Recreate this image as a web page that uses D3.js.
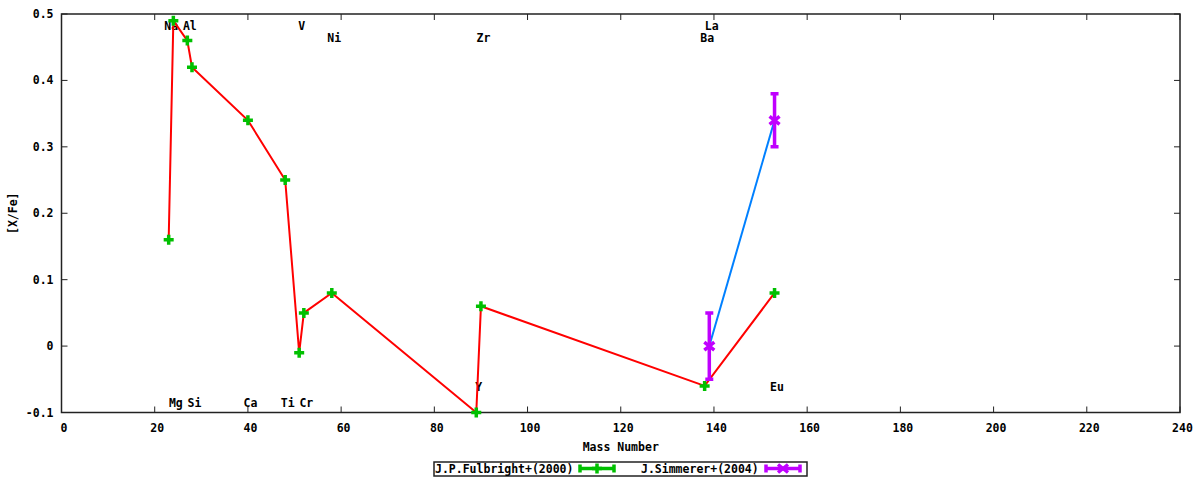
<!DOCTYPE html>
<html>
<head>
<meta charset="utf-8">
<script src="https://cdn.jsdelivr.net/npm/d3@7"></script>
<style>
  body { margin: 0; background: #fff; }
  text { font-family: "DejaVu Sans Mono", monospace; font-weight: bold; font-size: 11.5px; fill: #000; }
</style>
</head>
<body>
<svg id="chart" width="1200" height="480"></svg>
<script>
// Fulbright (2000): mass number vs [X/Fe]
var fulMass = [23, 24, 27, 28, 40, 48, 51, 52, 58, 89, 90, 138, 153];
var fulVal  = [0.16, 0.49, 0.46, 0.42, 0.34, 0.25, -0.01, 0.05, 0.08, -0.10, 0.06, -0.06, 0.08];

// Simmerer (2004) with errors
var simMass = [139, 153];
var simVal  = [0.00, 0.34];
var simErr  = [0.05, 0.04];

// element labels: name, mass number, [X/Fe] level of label
var labelNames = ["Na", "Al", "V", "La", "Ni", "Zr", "Ba", "Mg", "Si", "Ca", "Ti", "Cr", "Y", "Eu"];
var labelMass  = [23, 27, 51, 139, 58, 90, 138, 24, 28, 40, 48, 52, 89, 153];
var labelLevel = [0.482, 0.482, 0.482, 0.482, 0.464, 0.464, 0.464, -0.085, -0.085, -0.085, -0.085, -0.085, -0.061, -0.061];

var xTicks = d3.range(0, 241, 20);
var yTicks = [-0.1, 0, 0.1, 0.2, 0.3, 0.4, 0.5];

(function() {
var pL = 61.5, pR = 1180, pT = 14, pB = 412.5;
var svg = d3.select("#chart");

var x = d3.scaleLinear().domain([0, 240]).range([pL, pR]);
var y = d3.scaleLinear().domain([-0.1, 0.5]).range([pB, pT]);

var red = "#ff0000", green = "#00c000", purple = "#c000ff", blue = "#0080ff";

// frame
svg.append("rect")
    .attr("x", pL).attr("y", pT)
    .attr("width", pR - pL).attr("height", pB - pT)
    .attr("fill", "none").attr("stroke", "#222").attr("stroke-width", 1.5);

// ticks (inward, mirrored)
var ticks = svg.append("g").attr("stroke", "#222").attr("stroke-width", 1);
xTicks.forEach(function(t) {
  ticks.append("line").attr("x1", x(t)).attr("x2", x(t)).attr("y1", pB).attr("y2", pB - 6);
  ticks.append("line").attr("x1", x(t)).attr("x2", x(t)).attr("y1", pT).attr("y2", pT + 6);
});
yTicks.forEach(function(t) {
  ticks.append("line").attr("x1", pL).attr("x2", pL + 6).attr("y1", y(t)).attr("y2", y(t));
  ticks.append("line").attr("x1", pR).attr("x2", pR - 6).attr("y1", y(t)).attr("y2", y(t));
});

// tick labels
svg.append("g").selectAll("text").data(xTicks).join("text")
    .attr("x", d => x(d) + 2.5).attr("y", 432)
    .attr("text-anchor", "middle")
    .text(d => d);
svg.append("g").selectAll("text").data(yTicks).join("text")
    .attr("x", 53.5).attr("y", d => y(d) + 4)
    .attr("text-anchor", "end")
    .text(d => d === 0 ? "0" : String(d));

// axis titles
svg.append("text").attr("x", (pL + pR) / 2).attr("y", 451)
    .attr("text-anchor", "middle").text("Mass Number");
svg.append("text")
    .attr("transform", "translate(16.5," + ((pT + pB) / 2) + ") rotate(-90)")
    .attr("text-anchor", "middle").text("[X/Fe]");

// element labels
svg.append("g").selectAll("text").data(labelNames).join("text")
    .attr("x", (d, i) => x(labelMass[i]) + 2.5)
    .attr("y", (d, i) => y(labelLevel[i]) + 4)
    .attr("text-anchor", "middle")
    .text(d => d);

function plus(g, cx, cy, col) {
  g.append("path")
    .attr("d", "M" + (cx - 5) + "," + cy + "H" + (cx + 5) + "M" + cx + "," + (cy - 5) + "V" + (cy + 5))
    .attr("stroke", col).attr("stroke-width", 3.5).attr("fill", "none");
}
function cross(g, cx, cy, col) {
  g.append("path")
    .attr("d", "M" + (cx - 5) + "," + (cy - 4) + "L" + (cx + 5) + "," + (cy + 4) +
               "M" + (cx - 5) + "," + (cy + 4) + "L" + (cx + 5) + "," + (cy - 4))
    .attr("stroke", col).attr("stroke-width", 3.5).attr("fill", "none");
}

// Fulbright line + points
var line = d3.line().x(d => x(d[0])).y(d => y(d[1]));
var ful = fulMass.map((m, i) => [m, fulVal[i]]);
svg.append("path").datum(ful).attr("d", line)
    .attr("fill", "none").attr("stroke", red).attr("stroke-width", 2);
var gf = svg.append("g");
ful.forEach(d => plus(gf, x(d[0]), y(d[1]), green));

// Simmerer line + error bars + points
var sim = simMass.map((m, i) => [m, simVal[i], simErr[i]]);
svg.append("path").datum(sim).attr("d", line)
    .attr("fill", "none").attr("stroke", blue).attr("stroke-width", 2);
var gs = svg.append("g");
sim.forEach(function(d) {
  var cx = x(d[0]), y1 = y(d[1] + d[2]), y2 = y(d[1] - d[2]);
  gs.append("path")
    .attr("d", "M" + cx + "," + y1 + "V" + y2 +
               "M" + (cx - 4) + "," + y1 + "H" + (cx + 4) +
               "M" + (cx - 4) + "," + y2 + "H" + (cx + 4))
    .attr("stroke", purple).attr("stroke-width", 3.5).attr("fill", "none");
  cross(gs, cx, y(d[1]), purple);
});

// legend
var lg = svg.append("g");
lg.append("rect").attr("x", 434).attr("y", 462).attr("width", 373).attr("height", 14)
    .attr("fill", "#fff").attr("stroke", "#222").attr("stroke-width", 1.5);
lg.append("text").attr("x", 435).attr("y", 473).text("J.P.Fulbright+(2000)");
lg.append("text").attr("x", 641).attr("y", 473).text("J.Simmerer+(2004)");
function legendSample(x1, x2, col, marker) {
  var cy = 468.5;
  lg.append("path")
    .attr("d", "M" + x1 + "," + cy + "H" + x2 +
               "M" + x1 + "," + (cy - 4) + "V" + (cy + 4) +
               "M" + x2 + "," + (cy - 4) + "V" + (cy + 4))
    .attr("stroke", col).attr("stroke-width", 3.5).attr("fill", "none");
  marker(lg, (x1 + x2) / 2, cy, col);
}
legendSample(580, 614, green, plus);
legendSample(766, 800, purple, cross);
})();
</script>
</body>
</html>
